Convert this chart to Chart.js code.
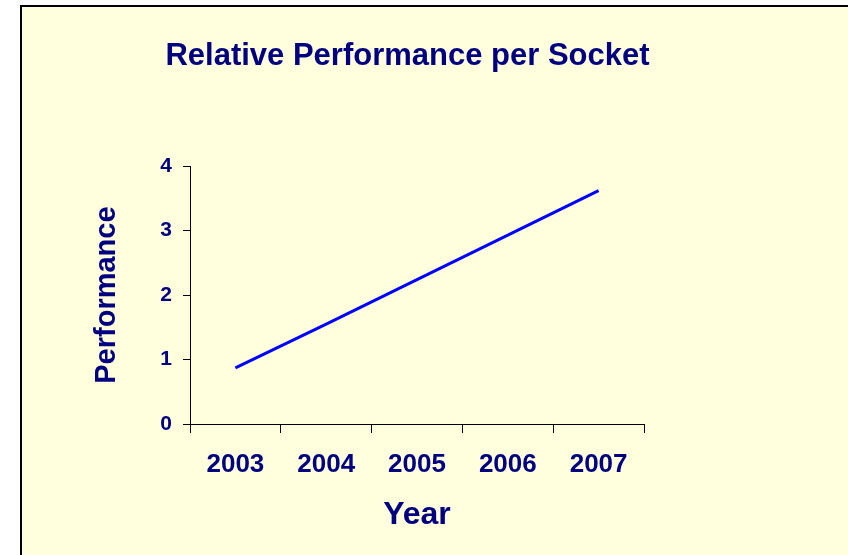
<!DOCTYPE html>
<html>
<head>
<meta charset="utf-8">
<script src="https://cdn.jsdelivr.net/npm/chart.js@4"></script>
<style>
  body { margin: 0; background: #fff; }
  #box {
    position: absolute; left: 20px; top: 5px;
    border-left: 2px solid #000; border-top: 2px solid #000;
  }
  #myChart { display: block; background: #FFFEDD; }
</style>
</head>
<body>
<div id="box"><canvas id="myChart" width="826" height="548"></canvas></div>
<script>
const years = ['2003', '2004', '2005', '2006', '2007']
const performance = [0.87, 1.55, 2.24, 2.93, 3.62]
const yTicks = [0, 1, 2, 3, 4]

const navy = '#000080'
const fontFamily = "'Liberation Sans', Arial, sans-serif"
const ctx = document.getElementById('myChart')

new Chart(ctx, {
  type: 'line',
  data: {
    labels: years,
    datasets: [{
      label: 'Performance',
      data: performance,
      borderColor: '#0000FF',
      borderWidth: 3,
      pointRadius: 0,
      fill: false,
      tension: 0
    }]
  },
  options: {
    responsive: false,
    animation: false,
    layout: { padding: { left: 0, right: 55, top: 0, bottom: 0 } },
    plugins: {
      legend: false,
      tooltip: { enabled: false },
      title: {
        display: true,
        text: 'Relative Performance per Socket',
        color: navy,
        font: { family: fontFamily, size: 31, weight: 'bold' },
        padding: { top: 31, bottom: 91 }
      }
    },
    scales: {
      x: {
        offset: true,
        grid: { offset: true, drawOnChartArea: false, color: '#000', tickLength: 9 },
        border: { color: '#000', width: 1 },
        ticks: { color: navy, padding: 16, font: { family: fontFamily, size: 26, weight: 'bold' } },
        title: {
          display: true, text: 'Year', color: navy,
          font: { family: fontFamily, size: 32, weight: 'bold' },
          padding: { top: 0, bottom: 21 }
        },
        afterFit: (scale) => { scale.height = 131 }
      },
      y: {
        min: yTicks[0],
        max: yTicks[yTicks.length - 1],
        grid: { drawOnChartArea: false, color: '#000', tickLength: 7 },
        border: { color: '#000', width: 1 },
        ticks: { stepSize: 1, color: navy, padding: 11, font: { family: fontFamily, size: 21, weight: 'bold' } },
        title: {
          display: true, text: 'Performance', color: navy,
          font: { family: fontFamily, size: 29, weight: 'bold' },
          padding: { top: 68, bottom: 0 }
        },
        afterFit: (scale) => { scale.width = 168 }
      },
      // empty right-hand space so the plot ends where the picture's does
      y2: {
        axis: 'y',
        position: 'right',
        grid: { display: false },
        border: { display: false },
        ticks: { display: false },
        afterFit: (scale) => { scale.width = 149 }
      }
    }
  }
})
</script>
</body>
</html>
